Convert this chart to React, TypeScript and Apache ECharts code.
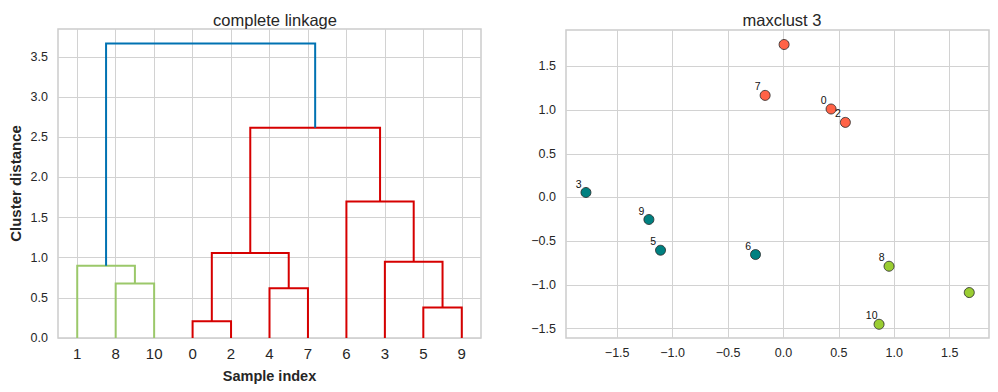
import React, { useEffect, useRef } from "react";
import * as echarts from "echarts";

// ---- Dendrogram data (scipy-style coordinates) ----
const leafPositions = [5, 15, 25, 35, 45, 55, 65, 75, 85, 95, 105];
const leafLabels = ["1", "8", "10", "0", "2", "4", "7", "6", "3", "5", "9"];
const linkX: number[][] = [
  [15, 15, 25, 25],
  [5, 5, 20, 20],
  [35, 35, 45, 45],
  [55, 55, 65, 65],
  [40, 40, 60, 60],
  [95, 95, 105, 105],
  [85, 85, 100, 100],
  [75, 75, 92.5, 92.5],
  [50, 50, 83.75, 83.75],
  [12.5, 12.5, 66.875, 66.875],
];
const linkY: number[][] = [
  [0, 0.68, 0.68, 0],
  [0, 0.9, 0.9, 0.68],
  [0, 0.21, 0.21, 0],
  [0, 0.62, 0.62, 0],
  [0.21, 1.06, 1.06, 0.62],
  [0, 0.38, 0.38, 0],
  [0, 0.95, 0.95, 0.38],
  [0, 1.7, 1.7, 0.95],
  [1.06, 2.62, 2.62, 1.7],
  [0.9, 3.67, 3.67, 2.62],
];
const linkGroup = ["g", "g", "r", "r", "r", "r", "r", "r", "r", "b"];
const distanceTicks = [0, 0.5, 1.0, 1.5, 2.0, 2.5, 3.0, 3.5];

// ---- Scatter data ----
const pointIds = [0, 1, 2, 3, 4, 5, 6, 7, 8, 9, 10];
const pointX = [0.43, 1.677, 0.559, -1.782, 0.006, -1.109, -0.252, -0.165, 0.953, -1.214, 0.863];
const pointY = [1.012, -1.088, 0.859, 0.057, 1.75, -0.604, -0.653, 1.168, -0.787, -0.252, -1.451];
const pointCluster = [1, 0, 1, 2, 1, 2, 2, 1, 0, 2, 0];
const pointLabelShown = [true, false, true, true, false, true, true, true, true, true, true];
const scatterTicks = [-1.5, -1.0, -0.5, 0.0, 0.5, 1.0, 1.5];

const linkColors: Record<string, string> = { g: "#9bc86a", r: "#d60000", b: "#0072b2" };
const clusterColors = ["#9acd32", "#ff6347", "#008080"];

const FONT = "'Liberation Sans', Arial, Helvetica, sans-serif";
const TXT = "#262626";
const GRIDC = "#d2d2d2";
const fmt = (v: number) => v.toFixed(1).replace("-", "\u2212");

export default function App() {
  const ref = useRef<HTMLDivElement>(null);
  useEffect(() => {
    if (!ref.current) return;
    const chart = echarts.init(ref.current, undefined, { renderer: "svg" });
    const linkData = linkX.map((xs, i) => [...xs, ...linkY[i]]);
    const titleStyle = { fontFamily: FONT, fontSize: 16.5, fontWeight: "normal", color: TXT };
    const tickLabel = { fontSize: 12.5, color: TXT, fontFamily: FONT, formatter: fmt };
    const option: any = {
      animation: false,
      backgroundColor: "#ffffff",
      textStyle: { fontFamily: FONT },
      title: [
        { text: "complete linkage", left: 270, top: 6, textAlign: "center", textStyle: titleStyle },
        { text: "maxclust 3", left: 777, top: 6, textAlign: "center", textStyle: titleStyle },
      ],
      grid: [
        { left: 58, top: 29, width: 423, height: 309, show: true, borderColor: "#cccccc", borderWidth: 1.5, backgroundColor: "#ffffff" },
        { left: 566, top: 30, width: 423, height: 308, show: true, borderColor: "#cccccc", borderWidth: 1.5, backgroundColor: "#ffffff" },
      ],
      xAxis: [
        {
          gridIndex: 0,
          type: "value",
          min: 0,
          max: 110,
          name: "Sample index",
          nameLocation: "middle",
          nameGap: 30,
          nameTextStyle: { fontFamily: FONT, fontSize: 14.5, fontWeight: "bold", color: TXT },
          axisLine: { show: false },
          axisTick: { show: false, customValues: leafPositions },
          axisLabel: {
            customValues: leafPositions,
            margin: 8,
            fontSize: 15,
            color: TXT,
            fontFamily: FONT,
            formatter: (v: number) => leafLabels[leafPositions.indexOf(v)] ?? "",
          },
          splitLine: { show: true, lineStyle: { color: GRIDC, width: 1 } },
        },
        {
          gridIndex: 1,
          type: "value",
          min: -1.962,
          max: 1.855,
          axisLine: { show: false },
          axisTick: { show: false, customValues: scatterTicks },
          axisLabel: { customValues: scatterTicks, margin: 8, ...tickLabel },
          splitLine: { show: true, lineStyle: { color: GRIDC, width: 1 } },
        },
      ],
      yAxis: [
        {
          gridIndex: 0,
          type: "value",
          min: 0,
          max: 3.85,
          name: "Cluster distance",
          nameLocation: "middle",
          nameGap: 35,
          nameTextStyle: { fontFamily: FONT, fontSize: 15, fontWeight: "bold", color: TXT },
          axisLine: { show: false },
          axisTick: { show: false, customValues: distanceTicks },
          axisLabel: { customValues: distanceTicks, margin: 10, ...tickLabel },
          splitLine: { show: true, lineStyle: { color: GRIDC, width: 1 } },
        },
        {
          gridIndex: 1,
          type: "value",
          min: -1.608,
          max: 1.916,
          axisLine: { show: false },
          axisTick: { show: false, customValues: scatterTicks },
          axisLabel: { customValues: scatterTicks, margin: 10, ...tickLabel },
          splitLine: { show: true, lineStyle: { color: GRIDC, width: 1 } },
        },
      ],
      series: [
        {
          type: "custom",
          xAxisIndex: 0,
          yAxisIndex: 0,
          data: linkData,
          encode: { x: [0, 1, 2, 3], y: [4, 5, 6, 7] },
          renderItem: (params: any, api: any) => {
            const pts = [0, 1, 2, 3].map((k) => api.coord([api.value(k), api.value(k + 4)]));
            return {
              type: "polyline",
              shape: { points: pts },
              style: { stroke: linkColors[linkGroup[params.dataIndex]], lineWidth: 2, fill: "none" },
            };
          },
        },
        {
          type: "scatter",
          xAxisIndex: 1,
          yAxisIndex: 1,
          symbolSize: 10,
          data: pointIds.map((id, i) => ({
            value: [pointX[i], pointY[i]],
            name: String(id),
            itemStyle: { color: clusterColors[pointCluster[i]], borderColor: "#222222", borderWidth: 0.8, opacity: 1 },
            label: {
              show: pointLabelShown[i],
              formatter: String(id),
              position: [-2, -3.5],
              align: "center",
              verticalAlign: "middle",
              fontSize: 10.5,
              color: "#111111",
              fontFamily: FONT,
            },
          })),
        },
      ],
    };
    chart.setOption(option);
    return () => chart.dispose();
  }, []);
  return <div ref={ref} style={{ position: "fixed", left: 0, top: 0, width: 998, height: 392 }} />;
}
